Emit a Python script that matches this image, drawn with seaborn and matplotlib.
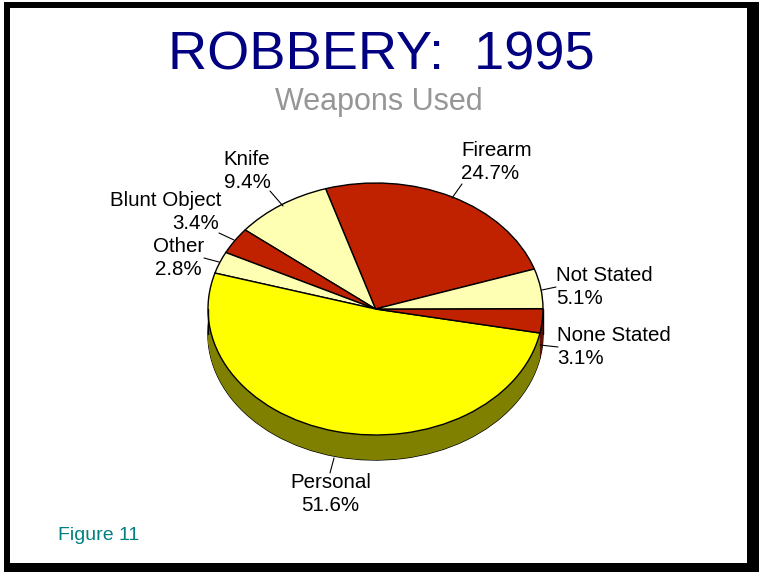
import numpy as np
import matplotlib
matplotlib.use("Agg")
import matplotlib.pyplot as plt
from matplotlib.patches import Rectangle
import seaborn as sns

# counter-clockwise from the firearm slice
categories = ["Firearm", "Knife", "Blunt Object", "Other", "Personal", "None Stated", "Not Stated"]
shares = [24.7, 9.4, 3.4, 2.8, 51.6, 3.1, 5.1]
top_colors = ["#C02200", "#FFFFB3", "#C02200", "#FFFFB3", "#FFFF00", "#C02200", "#FFFFB3"]
side_colors = ["#601100", "#80805A", "#601100", "#80805A", "#808000", "#601100", "#80805A"]
label_text = ["Firearm\n24.7%", "Knife\n9.4%", "Blunt Object\n3.4%", "Other\n2.8%",
              "Personal\n51.6%", "None Stated\n3.1%", "Not Stated\n5.1%"]

W, H = 761, 572
CX, CY, RX, RY, DEPTH = 375.5, 309.0, 167.5, 126.0, 25.0
START = 18.5

sns.set_theme(style="white")
plt.rcParams["font.family"] = ["Liberation Sans", "DejaVu Sans"]


def px(x, y):
    """pixel position in the reference -> pie data units"""
    return (x - CX) / RX, (CY - y) / RY


fig = plt.figure(figsize=(W / 100, H / 100), dpi=100, facecolor="white")
ax = fig.add_axes([0, 0, 1, 1])

# page frame, pixel coords through the figure transform
for x0, y0, x1, y1 in [(4, 2, 759, 8), (4, 2, 10, 572), (747, 2, 759, 572), (4, 563, 759, 572)]:
    fig.add_artist(Rectangle((x0 / W, 1 - y1 / H), (x1 - x0) / W, (y1 - y0) / H,
                             transform=fig.transFigure, color="black", lw=0))

# pie wall: stacked copies going down, black outline only on the lowest one
offset_y = DEPTH / RY
ax.pie(shares, colors=side_colors, startangle=START, counterclock=True, center=(0, -offset_y),
       wedgeprops={"edgecolor": "black", "linewidth": 1.0})
for off in np.linspace(offset_y, 0, 40):
    ax.pie(shares, colors=side_colors, startangle=START, counterclock=True, center=(0, -off),
           wedgeprops={"linewidth": 0})
ax.plot([-1, -1], [0, -offset_y], color="black", lw=1.0)
ax.plot([1, 1], [0, -offset_y], color="black", lw=1.0)

# top face
ax.pie(shares, colors=top_colors, startangle=START, counterclock=True,
       wedgeprops={"edgecolor": "black", "linewidth": 1.0})

ax.set_aspect("auto")
ax.set_xlim(-CX / RX, (W - CX) / RX)
ax.set_ylim((CY - H) / RY, CY / RY)
ax.axis("off")
ax.patch.set_alpha(0)

# leader lines and labels, (x, y) in reference pixels
leaders = [((452, 198), (462, 184)), ((283, 206), (270, 191)), ((234, 240), (219, 233)),
           ((219, 262), (204, 258)), ((330, 473), (334, 458)), ((540, 345), (558, 347)),
           ((542, 290), (556, 287))]
label_pos = [(461, 150, "left"), (247, 159, "center"), (221, 200, "right"), (204, 246, "right"),
             (331, 482, "center"), (557, 335, "left"), (556, 275, "left")]
for (a, b) in leaders:
    xs, ys = zip(px(*a), px(*b))
    ax.plot(xs, ys, color="black", lw=0.8)

for name, txt, (x, y, ha) in zip(categories, label_text, label_pos):
    first, second = txt.split("\n")
    ax.text(*px(x, y + 1), first, fontsize=14.8, ha=ha, va="center", color="black")
    x2 = x - 2 if ha == "right" else x
    if name == "Personal":
        x2 = x - 1
    ax.text(*px(x2, y + 24), second, fontsize=14.8, ha=ha, va="center", color="black")

fig.text(381 / W, 1 - 56 / H, "ROBBERY:  1995", fontsize=39, color="#000080", ha="center", va="center")
fig.text(379 / W, 1 - 102 / H, "Weapons Used", fontsize=22, color="#969696", ha="center", va="center")
fig.text(58 / W, 1 - 535 / H, "Figure 11", fontsize=14, color="#008080", ha="left", va="center")

fig.savefig("out.png", dpi=100)
